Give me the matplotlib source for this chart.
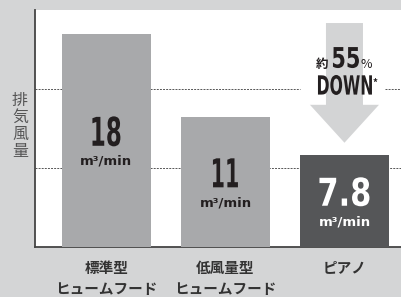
import matplotlib
matplotlib.use('Agg')
import matplotlib.pyplot as plt
from matplotlib.patches import FancyArrow, PathPatch
from matplotlib.textpath import TextPath
from matplotlib.font_manager import FontProperties
from matplotlib.transforms import Affine2D

# data
categories = ['標準型\nヒュームフード', '低風量型\nヒュームフード', 'ピアノ']
values = [18, 11, 7.8]
value_labels = ['18', '11', '7.8']
unit = 'm³/min'
reduction = '55'
ylabel = '排\n気\n風\n量'

bar_colors = ['#a8a9ab', '#a8a9ab', '#555658']
text_colors = ['#231f20', '#231f20', '#ffffff']
# target box (w, h in px) of the condensed numbers
num_boxes = [(28, 30), (25, 29), (50, 29)]

plt.rcParams['font.family'] = ['Noto Sans CJK JP', 'DejaVu Sans']

W, H = 401, 297
fig = plt.figure(figsize=(W / 100, H / 100), dpi=100, facecolor='#d4d5d6')
ax = fig.add_axes([35 / W, 1 - 247 / H, 366 / W, 237 / H])
ax.set_facecolor('white')

x = list(range(len(values)))
ax.bar(x, values, width=0.75, color=bar_colors, zorder=3)
ax.set_xlim(-0.6, 2.475)
ax.set_ylim(0, 20)

bold = FontProperties(family='DejaVu Sans', weight='bold')


def narrow_text(xd, yd, s, w, h, color, dx=0, dy=0):
    # condensed bold text squeezed into a w x h pixel box centred on (xd, yd)
    tp = TextPath((0, 0), s, size=40, prop=bold)
    bb = tp.get_extents()
    px, py = ax.transData.transform((xd, yd))
    tr = (Affine2D().translate(-(bb.x0 + bb.x1) / 2, -(bb.y0 + bb.y1) / 2)
          .scale(w / bb.width, h / bb.height).translate(px + dx, py + dy))
    fig.add_artist(PathPatch(tp, transform=tr, fc=color, lw=0, zorder=6))


# dotted guide lines (upper one broken behind the DOWN label)
grid_kw = dict(color='#555555', lw=0.7, ls=(0, (2, 1.2)), zorder=1)
ax.axhline(20 / 3, **grid_kw)
ax.axhline(40 / 3, xmax=0.724, **grid_kw)
ax.axhline(40 / 3, xmin=0.956, **grid_kw)

# value labels inside the bars
for i, v in enumerate(values):
    w, h = num_boxes[i]
    narrow_text(i, v / 2, value_labels[i], w, h, text_colors[i], dy=9)
    ax.annotate(unit, (i, v / 2), xytext=(0, -15), textcoords='offset points',
                ha='center', va='center', fontsize=9.5, fontweight='bold',
                family=['DejaVu Sans'], color=text_colors[i], zorder=5)

# reduction arrow over the last bar
arr = FancyArrow(2, 18.9, 0, -10.1, width=0.311, head_width=0.58, head_length=3.2,
                 length_includes_head=True, color='#d3d4d5', lw=0, zorder=4)
ax.add_patch(arr)
narrow_text(2, 15.1, reduction, 26, 21, '#231f20', dx=1.5, dy=10.5)
ax.text(1.865, 15.1, '約', ha='right', va='baseline', fontsize=9, fontweight='bold',
        color='#231f20', zorder=6)
ax.text(2.135, 15.1, '%', ha='left', va='baseline', fontsize=9,
        color='#231f20', zorder=6)
narrow_text(2, 12.83, 'DOWN', 54, 20, '#231f20', dx=0.5, dy=10)
ax.text(2.235, 14.3, '*', ha='left', va='top', fontsize=7, fontweight='bold',
        color='#231f20', zorder=6)

ax.set_xticks(x)
ax.set_xticklabels(categories, fontsize=10.5, fontweight='bold', color='#333333',
                   linespacing=1.45)
ax.tick_params(axis='x', length=0, pad=9)
ax.set_yticks([])
for s in ['top', 'right']:
    ax.spines[s].set_visible(False)
for s in ['left', 'bottom']:
    ax.spines[s].set_color('#444444')
    ax.spines[s].set_linewidth(1.3)

fig.text(20 / W, 1 - 126 / H, ylabel, ha='center', va='center', fontsize=11.5,
         color='#555555', linespacing=1.0)

fig.savefig('out.png', dpi=100, facecolor=fig.get_facecolor())
